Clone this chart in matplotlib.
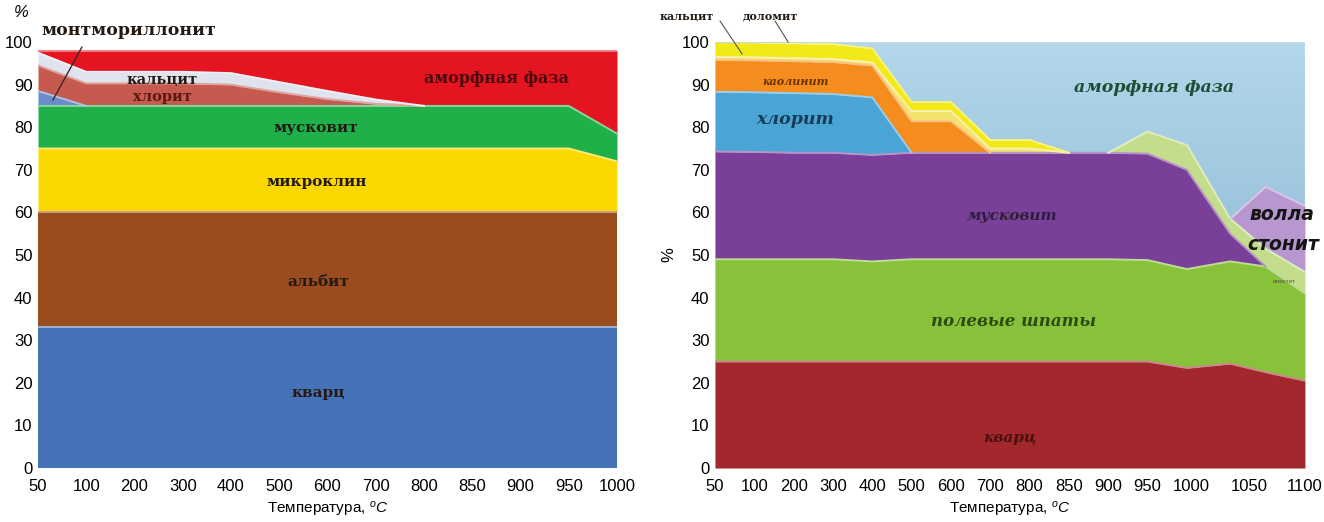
import numpy as np
import matplotlib.pyplot as plt
from matplotlib.colors import to_rgb, LinearSegmentedColormap

plt.rcParams['font.family'] = ['Liberation Sans', 'DejaVu Sans']
plt.rcParams['mathtext.fontset'] = 'custom'
plt.rcParams['mathtext.it'] = 'Liberation Sans:italic'
plt.rcParams['mathtext.rm'] = 'Liberation Sans'

# --- left panel: 50..1000 C, evenly spaced categories ---
temps_left = ["50", "100", "200", "300", "400", "500", "600", "700",
              "800", "850", "900", "950", "1000"]
quartz_l = [33, 33, 33, 33, 33, 33, 33, 33, 33, 33, 33, 33, 33]
albite_l = [27, 27, 27, 27, 27, 27, 27, 27, 27, 27, 27, 27, 27]
microcline_l = [15, 15, 15, 15, 15, 15, 15, 15, 15, 15, 15, 15, 12]
muscovite_l = [10, 10, 10, 10, 10, 10, 10, 10, 10, 10, 10, 10, 6.5]
montmor_l = [3.5, 0, 0, 0, 0, 0, 0, 0, 0, 0, 0, 0, 0]
chlorite_l = [6, 5.3, 5.3, 5.3, 5, 3.2, 1.6, 0.5, 0, 0, 0, 0, 0]
calcite_l = [3, 2.7, 2.7, 2.7, 2.7, 2.4, 1.9, 1, 0, 0, 0, 0, 0]
amorph_l = [0.5, 5, 5, 5, 5.3, 7.4, 9.5, 11.5, 13, 13, 13, 13, 19.5]

# --- right panel: 50..1100 C ---
temps_right = ["50", "100", "200", "300", "400", "500", "600", "700",
               "800", "850", "900", "950", "1000", "1050", "1100"]
tick_pos_right = [0, 1, 2, 3, 4, 5, 6, 7, 8, 9, 10, 11, 12.12, 13.59, 15]
x_right = [0, 1, 2, 3, 4, 5, 6, 7, 8, 9, 10, 11, 12, 13.1, 14, 15]
quartz_r = [25, 25, 25, 25, 25, 25, 25, 25, 25, 25, 25, 25, 23.5, 24.5, 22.5, 20.5]
feldspar_r = [24, 24, 24, 24, 23.5, 24, 24, 24, 24, 24, 24, 23.8, 23.2, 24, 24.8, 20.5]
muscovite_r = [25.3, 25.2, 25, 25, 25, 25, 25, 25, 25, 25, 25, 25, 23.3, 6.5, 0, 0]
chlorite_r = [14, 14, 14, 13.8, 13.5, 0, 0, 0, 0, 0, 0, 0, 0, 0, 0, 0]
kaolinite_r = [7.5, 7.5, 7.5, 7.5, 7.5, 7.4, 7.4, 0, 0, 0, 0, 0, 0, 0, 0, 0]
dolomite_r = [0.7, 0.7, 0.7, 0.7, 0.7, 2.4, 2.4, 1, 1, 0, 0, 0, 0, 0, 0, 0]
calcite_r = [3.5, 3.5, 3.5, 3.5, 3.3, 2.1, 2.1, 2, 2, 0, 0, 0, 0, 0, 0, 0]
smectite_r = [0, 0, 0, 0, 0, 0, 0, 0, 0, 0, 0, 5.2, 5.8, 3.5, 4.2, 5]
wollastonite_r = [0, 0, 0, 0, 0, 0, 0, 0, 0, 0, 0, 0, 0, 0, 14.5, 15.5]
amorph_r = [0, 0.1, 0.3, 0.5, 1.5, 14.1, 14.1, 23, 23, 26, 26, 21, 24.2, 41.5, 34, 38.5]


def lighten(c, f):
    r = np.array(to_rgb(c))
    return tuple(1 - (1 - r) * (1 - f))


def draw_stack(ax, x, layers, colors, edge=0.45):
    x = np.asarray(x, float)
    base = np.zeros(len(x))
    polys = []
    for vals, col in zip(layers, colors):
        th = np.asarray(vals, float)
        top = base + th
        p = ax.fill_between(x, base, top, color=col, lw=0, zorder=2)
        polys.append(p)
        if edge:
            keep = th > 0
            k = keep.copy()
            k[1:] |= keep[:-1]
            k[:-1] |= keep[1:]
            ax.plot(x, np.ma.masked_where(~k, top), color=lighten(col, edge),
                    lw=1.4, zorder=3, solid_joinstyle='round')
        base = top
    return polys


def style_axes(ax, xticks, xlabels, xmax):
    ax.set_xlim(0, xmax)
    ax.set_ylim(0, 100)
    ax.set_xticks(xticks)
    ax.set_xticklabels(xlabels)
    ax.set_yticks(range(0, 101, 10))
    ax.tick_params(length=0, labelsize=12)
    ax.tick_params(axis='x', pad=8)
    ax.tick_params(axis='y', pad=4)
    for s in ax.spines.values():
        s.set_visible(False)
    ax.set_xlabel(r"Температура, $^{o}C$", fontsize=11, labelpad=4)


fig = plt.figure(figsize=(13.24, 5.22), dpi=100)

# left panel
axl = fig.add_axes([0.0287, 0.1034, 0.4373, 0.8161])
left_layers = [quartz_l, albite_l, microcline_l, muscovite_l,
               montmor_l, chlorite_l, calcite_l, amorph_l]
left_colors = ["#4672b8", "#9a4c1e", "#fbd800", "#1fb04a",
               "#6b8ccc", "#c65a4e", "#dfe3ee", "#e41420"]
draw_stack(axl, range(len(temps_left)), left_layers, left_colors)
style_axes(axl, range(len(temps_left)), temps_left, len(temps_left) - 1)

serif = dict(family='DejaVu Serif', fontweight='bold', color='#231a14')
axl.text(0.08, 102.6, "монтмориллонит", ha='left', va='center',
         fontsize=12.5, clip_on=False, **serif)
axl.plot([0.91, 0.31], [98.8, 86.4], color='#3a2a2a', lw=1, zorder=4)
axl.text(2.57, 91.2, "кальцит", ha='center', va='center', fontsize=10.5, **serif)
axl.text(2.57, 87.2, "хлорит", ha='center', va='center', fontsize=10.5,
         family='DejaVu Serif', fontweight='bold', color='#5a1a12')
axl.text(5.76, 79.8, "мусковит", ha='center', va='center', fontsize=11, **serif)
axl.text(5.78, 67.1, "микроклин", ha='center', va='center', fontsize=11, **serif)
axl.text(5.8, 43.7, "альбит", ha='center', va='center', fontsize=11, **serif)
axl.text(5.8, 17.6, "кварц", ha='center', va='center', fontsize=11, **serif)
axl.text(9.51, 91.5, "аморфная фаза", ha='center', va='center', fontsize=11.5,
         family='DejaVu Serif', fontweight='bold', color='#4a0a0e')
fig.text(0.016, 0.977, "%", fontsize=12, style='italic', ha='center', va='center')

# right panel
axr = fig.add_axes([0.54, 0.1034, 0.4456, 0.8161])
right_layers = [quartz_r, feldspar_r, muscovite_r, chlorite_r, kaolinite_r,
                dolomite_r, calcite_r, smectite_r, wollastonite_r, amorph_r]
right_colors = ["#a2282d", "#87c23a", "#7a3f98", "#4aa4d6", "#f58c1e",
                "#f3e36e", "#f2ea16", "#c4dd8c", "#b896cf", "#8fc0da"]
polys = draw_stack(axr, x_right, right_layers, right_colors)

# amorphous phase drawn with a vertical blue gradient
amorph_poly = polys[-1]
amorph_poly.set_facecolor('none')
grad = np.linspace(0, 1, 256).reshape(-1, 1)
cmap = LinearSegmentedColormap.from_list('amorph', ["#78acca", "#b4d7eb"])
im = axr.imshow(grad, extent=[0, 15, 0, 100], origin='lower', aspect='auto',
                cmap=cmap, zorder=1.5)
im.set_clip_path(amorph_poly.get_paths()[0], transform=axr.transData)

style_axes(axr, tick_pos_right, temps_right, 15)
axr.set_ylabel("%", fontsize=12, labelpad=4)

axr.text(-0.71, 106.1, "кальцит", ha='center', va='center', fontsize=8,
         clip_on=False, **serif)
axr.text(1.40, 106.1, "доломит", ha='center', va='center', fontsize=8,
         clip_on=False, **serif)
axr.plot([0.13, 0.69], [104.9, 97.2], color='#555555', lw=0.8, clip_on=False, zorder=4)
axr.plot([1.53, 1.86], [104.9, 100.0], color='#555555', lw=0.8, clip_on=False, zorder=4)
iserif = dict(family='DejaVu Serif', fontweight='bold', style='italic')
axr.text(2.06, 90.8, "каолинит", ha='center', va='center', fontsize=8,
         color='#6a3200', **iserif)
axr.text(2.03, 81.9, "хлорит", ha='center', va='center', fontsize=12.5,
         color='#163c55', **iserif)
axr.text(11.16, 89.4, "аморфная фаза", ha='center', va='center', fontsize=12.5,
         color='#1d4e34', **iserif)
axr.text(7.55, 59.1, "мусковит", ha='center', va='center', fontsize=11,
         color='#2e1e3c', **iserif)
axr.text(7.58, 34.4, "полевые шпаты", ha='center', va='center', fontsize=12,
         color='#2c4a12', **iserif)
axr.text(7.5, 7.1, "кварц", ha='center', va='center', fontsize=11,
         color='#4a1010', **iserif)
sans_it = dict(family='DejaVu Sans', fontweight='bold', style='italic', color='#151515')
axr.text(13.6, 59.5, "волла", ha='left', va='center', fontsize=13.5,
         clip_on=False, **sans_it)
axr.text(13.53, 52.5, "стонит", ha='left', va='center', fontsize=13.5,
         clip_on=False, **sans_it)
axr.text(14.19, 43.8, "смектит", ha='left', va='center', fontsize=4.5,
         color='#555555', clip_on=False)

fig.savefig("out.png", dpi=100)
